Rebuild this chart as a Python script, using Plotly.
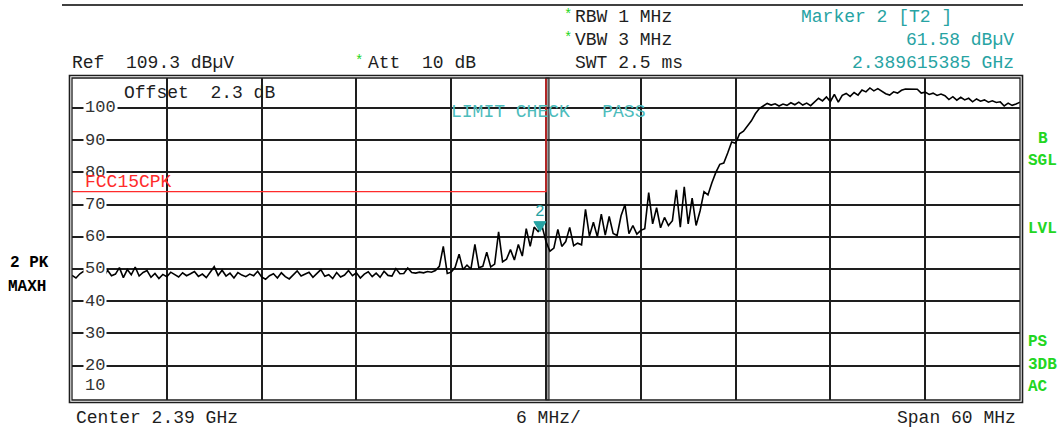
import numpy as np
import plotly.graph_objects as go

# sweep settings
CENTER_GHZ = 2.39
SPAN_GHZ = 0.06
REF_LEVEL = 109.3
Y_BOTTOM = 9.3

# trace 2 (PK, MAXH), dBuV, one value per 0.25 MHz from 2.36 to 2.42 GHz
LEVELS = [
    48.0, 47.2, 48.5, 49.3, 47.6, 48.8, 50.2, 48.1, 47.5, 49.6, 47.9, 48.4,
    50.4, 47.3, 49.8, 48.2, 50.6, 47.8, 48.9, 49.5, 47.4, 48.6, 47.0, 48.3,
    47.6, 49.0, 48.2, 47.5, 48.8, 47.9, 48.5, 49.2, 47.7, 48.4, 47.3, 49.1,
    50.7, 48.0, 49.6, 47.8, 48.7, 47.2, 48.9, 48.1, 47.6, 48.4, 47.9, 49.3,
    47.5, 46.8, 47.9, 48.5, 47.2, 48.8, 47.6, 46.9, 48.2, 49.4, 47.8, 48.3,
    49.0, 47.4, 48.6, 49.8, 47.7, 48.2, 47.0, 48.9, 47.5, 48.1, 49.5, 47.9,
    48.8, 47.2, 48.4, 49.1, 47.6, 48.7, 47.4, 49.3, 48.0, 47.8, 50.1, 48.5,
    48.6, 50.3, 48.9, 48.7, 49.0, 48.8, 49.2, 49.0, 49.5, 50.8, 57.0, 48.6,
    49.0, 50.5, 54.6, 49.8, 51.2, 50.0, 57.6, 50.4, 50.8, 55.2, 50.6, 51.5,
    61.5, 52.2, 53.0, 56.0, 52.8, 57.6, 54.0, 62.5, 57.0, 63.0, 61.6, 63.3,
    58.5, 55.5, 56.5, 62.3, 57.0, 58.5, 62.9, 57.2, 58.0, 57.5, 68.5, 60.2,
    64.5, 60.0, 67.0, 60.5, 66.3, 61.0, 60.4, 66.5, 70.0, 61.0, 63.5, 60.8,
    62.0, 62.5, 73.7, 64.0, 69.0, 62.8, 66.0, 63.5, 65.0, 74.6, 63.0, 75.5,
    64.0, 72.0, 63.5, 68.0, 74.0, 73.0, 76.8, 80.0, 82.5, 82.9, 86.0, 89.4,
    89.0, 92.0, 92.8, 94.5, 96.0, 98.2, 99.8, 100.6, 101.4, 100.9, 101.3, 100.6,
    101.2, 100.8, 101.6, 101.0, 101.8, 100.9, 101.5, 100.7, 101.9, 103.0, 102.2, 103.4,
    102.0, 104.2, 101.8, 103.9, 104.5, 103.6, 104.8, 104.0, 105.6, 105.0, 106.2, 105.3,
    106.0, 105.2, 104.4, 104.0, 105.0, 104.6, 105.5, 105.9, 105.9, 106.0, 105.8, 104.6,
    104.9, 104.2, 104.6, 103.9, 104.3, 103.8, 102.6, 103.5, 102.4, 103.3, 102.5, 103.0,
    101.9, 102.8, 102.1, 102.5, 101.8, 102.2, 101.7, 101.9, 100.6, 101.5, 100.8, 101.2,
    101.8,
]

# FCC15CPK limit line (74 dBuV up to the band edge)
LIMIT_FREQ = [2.36, 2.39, 2.39]
LIMIT_LEVEL = [74.0, 74.0, 120.0]

MARKER_FREQ = 2.389615385
MARKER_LEVEL = 61.58

Y_LABELS = [100, 90, 80, 70, 60, 50, 40, 30, 20, 10]
Y_GRID = [100, 90, 80, 70, 60, 50, 40, 30, 20]

freqs = np.linspace(CENTER_GHZ - SPAN_GHZ / 2, CENTER_GHZ + SPAN_GHZ / 2, len(LEVELS))

# plot area in pixels
L, T, W, H = 72, 78, 948, 322
FIG_W, FIG_H = 1060, 428
FONT = "Liberation Mono, Courier New, monospace"
TEAL = "#27a3a3"
GREEN = "#22d622"
RED = "#ff2b2b"
INK = "#1e1e1e"


def px(x):
    return (x - L) / W


def py(y):
    return (T + H - y) / H


fig = go.Figure()
fig.add_trace(go.Scatter(x=LIMIT_FREQ, y=LIMIT_LEVEL, mode="lines",
                         line=dict(color=RED, width=1.3), hoverinfo="skip"))
fig.add_trace(go.Scatter(x=freqs, y=LEVELS, mode="lines",
                         line=dict(color="black", width=1.6)))

annotations = []


def text(s, x, y, color=INK, size=18, anchor="left", bold=False, bg=None):
    annotations.append(dict(
        text=f"<b>{s}</b>" if bold else s, x=px(x), y=py(y), xref="paper", yref="paper",
        xanchor=anchor, yanchor="middle", showarrow=False,
        font=dict(family=FONT, size=size, color=color),
        bgcolor=bg, borderpad=0,
    ))


# y labels sit on the grid lines with a white box
for v in Y_LABELS:
    annotations.append(dict(
        text=str(v), x=px(83), y=v, xref="paper", yref="y",
        xanchor="left", yanchor="middle", showarrow=False,
        yshift=12 if v == 10 else 0,
        font=dict(family=FONT, size=17, color="#333"),
        bgcolor="white" if v != 10 else None, borderpad=1,
    ))

# header
text("*", 563, 15, GREEN, 14)
text("RBW 1 MHz", 574, 17)
text("*", 563, 38, GREEN, 14)
text("VBW 3 MHz", 574, 40)
text("SWT 2.5 ms", 574, 63)
text("Ref  109.3 dBµV", 71, 63)
text("*", 354, 61, GREEN, 14)
text("Att  10 dB", 367, 63)
text("Marker 2 [T2 ]", 800, 17, TEAL)
text("61.58 dBµV", 1015, 40, TEAL, anchor="right")
text("2.389615385 GHz", 1015, 63, TEAL, anchor="right")

# inside the graticule
text("Offset  2.3 dB", 123, 93)
text("LIMIT CHECK   PASS", 450, 112, "#4dbcbc")
text("FCC15CPK", 84, 182, RED)

# marker 2: triangle with its tip on the marker level, number above
annotations.append(dict(
    text="2", x=MARKER_FREQ, y=MARKER_LEVEL, xref="x", yref="y",
    xanchor="center", yanchor="bottom", yshift=9, showarrow=False,
    font=dict(family=FONT, size=16, color=TEAL),
))

# side labels
text("2 PK", 9, 263, "black", 16, bold=True)
text("MAXH", 7, 287, "black", 16, bold=True)
for s, x, y in [("B", 1037, 139), ("SGL", 1027, 161), ("LVL", 1027, 229),
                ("PS", 1027, 342), ("3DB", 1027, 365), ("AC", 1027, 387)]:
    text(s, x, y, GREEN, 16, bold=True)

# footer
text("Center 2.39 GHz", 75, 418)
text("6 MHz/", 515, 418)
text("Span 60 MHz", 1017, 418, anchor="right")

shapes = [
    # top rule
    dict(type="line", xref="paper", yref="paper", x0=px(62), x1=px(1023), y0=py(5), y1=py(5),
         line=dict(color="black", width=1.5)),
    # double frame
    dict(type="rect", xref="paper", yref="paper", x0=0, x1=1, y0=0, y1=1,
         line=dict(color=INK, width=1.3)),
    dict(type="rect", xref="paper", yref="paper", x0=px(69.5), x1=px(1022.5),
         y0=py(402.5), y1=py(75.5), line=dict(color=INK, width=1.6)),
    # doubled centre line
    dict(type="rect", xref="x", yref="paper", xsizemode="pixel", xanchor=CENTER_GHZ,
         x0=0, x1=3, y0=0, y1=1, line=dict(color="#333", width=1.2),
         fillcolor="#9a9a9a", layer="below"),
    # marker triangle
    dict(type="path", xref="x", yref="y", xsizemode="pixel", ysizemode="pixel",
         xanchor=MARKER_FREQ, yanchor=MARKER_LEVEL,
         path="M0,0 L-6,10 L6,10 Z", fillcolor=TEAL, line=dict(color=TEAL, width=1)),
]

fig.update_layout(
    width=FIG_W, height=FIG_H,
    margin=dict(l=L, r=FIG_W - L - W, t=T, b=FIG_H - T - H),
    paper_bgcolor="white", plot_bgcolor="white",
    showlegend=False,
    annotations=annotations,
    shapes=shapes,
    xaxis=dict(range=[CENTER_GHZ - SPAN_GHZ / 2, CENTER_GHZ + SPAN_GHZ / 2],
               tick0=2.36, dtick=0.006, showgrid=True, gridcolor=INK, gridwidth=1.5,
               showticklabels=False, ticks="", zeroline=False, showline=False),
    yaxis=dict(range=[Y_BOTTOM, REF_LEVEL], tickvals=Y_GRID, showgrid=True,
               gridcolor=INK, gridwidth=1.5, showticklabels=False, ticks="",
               zeroline=False, showline=False),
)

# the page's default body margin would shift the figure by 8px
fig.write_html("out.html", config={"displayModeBar": False},
               post_script="document.body.style.margin='0';")
